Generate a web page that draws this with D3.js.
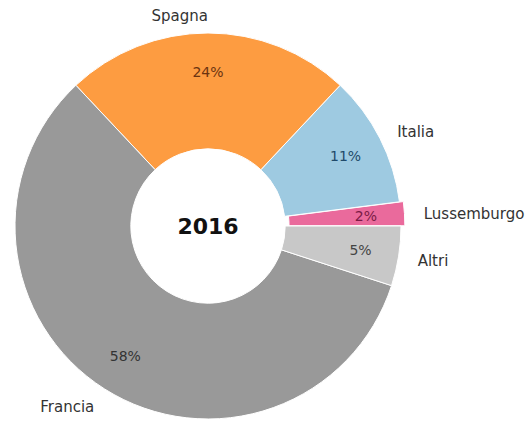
<!DOCTYPE html>
<html>
<head>
<meta charset="utf-8">
<script src="https://cdn.jsdelivr.net/npm/d3@7"></script>
<style>
  body { margin: 0; background: #fff; }
  text { font-family: "DejaVu Sans", sans-serif; }
</style>
</head>
<body>
<svg class="chart" width="529" height="421"></svg>
<script>
const paesi = ["Lussemburgo", "Italia", "Spagna", "Francia", "Altri"]
const quote = [2, 11, 24, 58, 5]
const colori = ["#ea6a9c", "#9ecae1", "#fd9c41", "#999999", "#c8c8c8"]
const coloriTesto = ["#7a1a45", "#1f4a6a", "#6b3310", "#333333", "#444444"]
const esplodi = [0.02, 0, 0, 0, 0]
const anno = "2016"

const svg = d3.select("svg.chart")
const cx = 208, cy = 226, R = 193

const pie = d3.pie()
  .sort(null)
  .startAngle(Math.PI / 2)
  .endAngle(Math.PI / 2 - 2 * Math.PI)
  .value(d => d)

const arcs = pie(quote)

const arc = d3.arc()
  .innerRadius(R * 0.4)
  .outerRadius(R)

// angle of the slice middle, counterclockwise from east
const midAngle = d => Math.PI / 2 - (d.startAngle + d.endAngle) / 2

const g = svg.append("g")
  .attr("transform", "translate(" + cx + "," + cy + ")")

const slices = g.selectAll("g.slice")
  .data(arcs)
  .enter()
  .append("g")
  .attr("class", "slice")
  .attr("transform", (d, i) => {
    const a = midAngle(d), e = esplodi[i] * R
    return "translate(" + (e * Math.cos(a)) + "," + (-e * Math.sin(a)) + ")"
  })

slices.append("path")
  .attr("d", arc)
  .attr("fill", (d, i) => colori[i])
  .attr("stroke", "#fff")
  .attr("stroke-width", 1)

slices.append("text")
  .attr("x", d => 0.8 * R * Math.cos(midAngle(d)))
  .attr("y", d => -0.8 * R * Math.sin(midAngle(d)))
  .attr("text-anchor", "middle")
  .attr("dominant-baseline", "central")
  .attr("font-size", 14)
  .attr("fill", (d, i) => coloriTesto[i])
  .text(d => d.data + "%")

slices.append("text")
  .attr("x", d => 1.1 * R * Math.cos(midAngle(d)))
  .attr("y", d => -1.1 * R * Math.sin(midAngle(d)) + 2)
  .attr("text-anchor", d => Math.cos(midAngle(d)) > 0.0001 ? "start" : "end")
  .attr("dominant-baseline", "central")
  .attr("font-size", 15)
  .attr("fill", "#333")
  .text((d, i) => paesi[i])

g.append("text")
  .attr("x", 0)
  .attr("y", 0)
  .attr("text-anchor", "middle")
  .attr("dominant-baseline", "central")
  .attr("font-size", 22)
  .attr("font-weight", "bold")
  .attr("fill", "#111")
  .text(anno)
</script>
</body>
</html>
